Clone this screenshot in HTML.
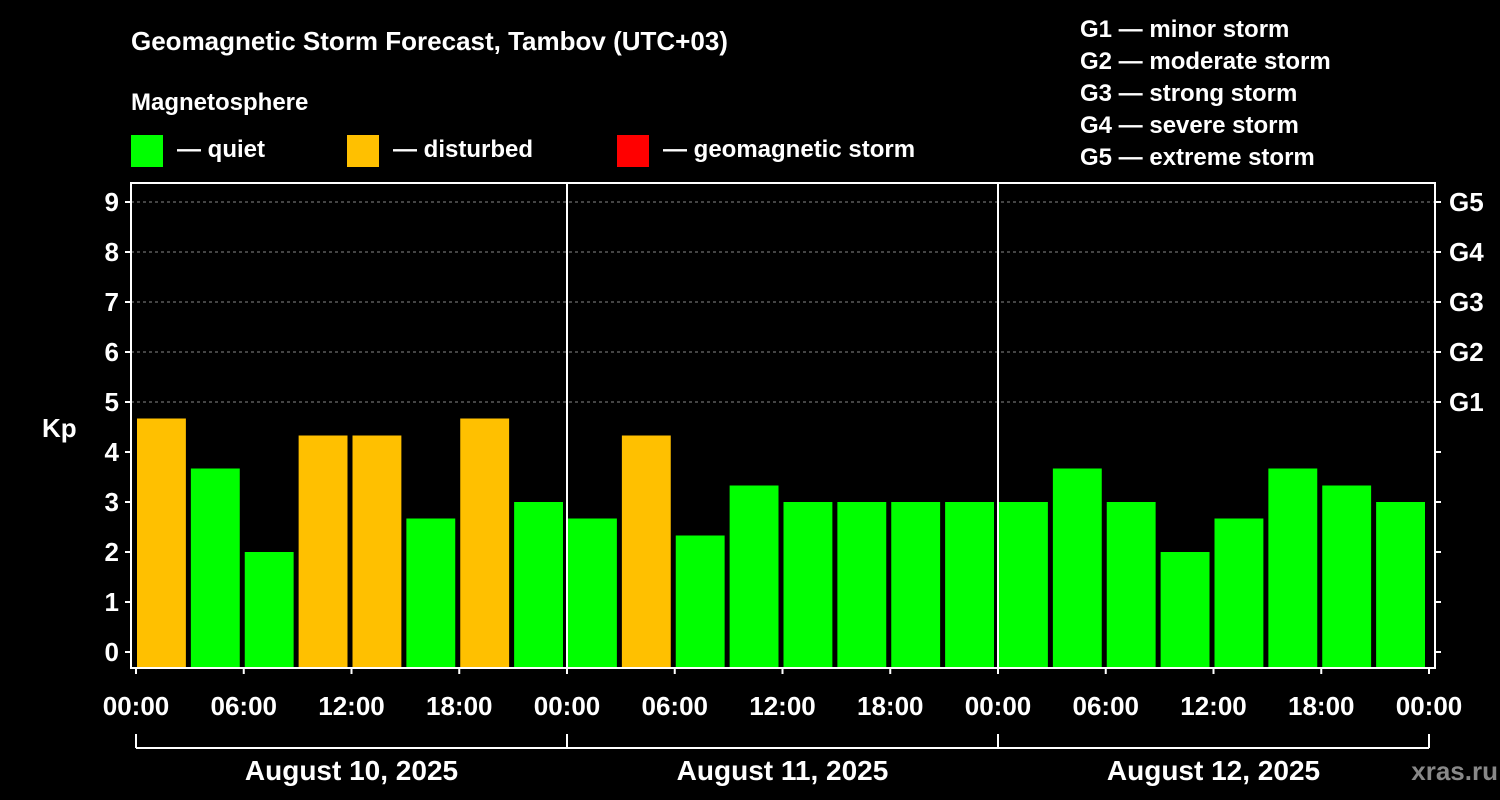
<!DOCTYPE html>
<html><head><meta charset="utf-8"><style>
html,body{margin:0;padding:0;background:#000;}
svg{display:block;font-family:"Liberation Sans",Arial,sans-serif;font-weight:bold;}
</style></head><body>
<svg id="chart" width="1500" height="800" viewBox="0 0 1500 800">
<rect x="0" y="0" width="1500" height="800" fill="#000"/>
<text x="131" y="50" fill="#fff" font-size="26">Geomagnetic Storm Forecast, Tambov (UTC+03)</text>
<text x="131" y="110" fill="#fff" font-size="24">Magnetosphere</text>
<g><rect x="131" y="135" width="32" height="32" fill="#00ff00"/><text x="177" y="157" fill="#fff" font-size="24">— quiet</text></g>
<g><rect x="347" y="135" width="32" height="32" fill="#ffc000"/><text x="393" y="157" fill="#fff" font-size="24">— disturbed</text></g>
<g><rect x="617" y="135" width="32" height="32" fill="#ff0000"/><text x="663" y="157" fill="#fff" font-size="24">— geomagnetic storm</text></g>
<g fill="#fff" font-size="24">
<text x="1080" y="37">G1 — minor storm</text>
<text x="1080" y="69">G2 — moderate storm</text>
<text x="1080" y="101">G3 — strong storm</text>
<text x="1080" y="133">G4 — severe storm</text>
<text x="1080" y="165">G5 — extreme storm</text>
</g>
<g id="grid"></g>
<g id="bars"></g>
<g id="axes"></g>
<text x="1498" y="780" fill="#888" font-size="26" text-anchor="end">xras.ru</text>
</svg>
<script>
const kpValues=[4.67,3.67,2,4.33,4.33,2.67,4.67,3, 2.67,4.33,2.33,3.33,3,3,3,3, 3,3.67,3,2,2.67,3.67,3.33,3];
const yTicks=[0,1,2,3,4,5,6,7,8,9];
const gLabels=["","","","","","G1","G2","G3","G4","G5"];
const timeLabels=["00:00","06:00","12:00","18:00","00:00","06:00","12:00","18:00","00:00","06:00","12:00","18:00","00:00"];
const dayLabels=["August 10, 2025","August 11, 2025","August 12, 2025"];
const NS="http://www.w3.org/2000/svg";
const L=131,R=1435,T=183,B=668,X0=136,X1=1429;
const y=v=>652-v*50;
const x=h=>X0+(X1-X0)*h/72;
function mk(p,tag,a){const e=document.createElementNS(NS,tag);for(const k in a)e.setAttribute(k,a[k]);p.appendChild(e);return e;}
const grid=document.getElementById('grid'),bars=document.getElementById('bars'),axes=document.getElementById('axes');
yTicks.forEach(v=>{if(v>=5){const l=mk(grid,'line',{x1:L,x2:R,y1:y(v),y2:y(v),stroke:'#888','stroke-dasharray':'3,3','stroke-width':1});

}});
kpValues.forEach((v,i)=>{const x0=x(i*3)+1,x1=x((i+1)*3)-4;
const r=mk(bars,'rect',{x:x0,y:y(v),width:x1-x0,height:B-y(v),fill:v>=5?'#ff0000':(v>=4?'#ffc000':'#00ff00')});

});
const frame=mk(axes,'rect',{x:L,y:T,width:R-L,height:B-T,fill:'none',stroke:'#fff','stroke-width':2});


[24,48].forEach(h=>{const d=mk(axes,'line',{x1:x(h),x2:x(h),y1:T,y2:B,stroke:'#fff','stroke-width':2});

});
yTicks.forEach(v=>{mk(axes,'line',{x1:L-6,x2:L,y1:y(v),y2:y(v),stroke:'#fff','stroke-width':2});
mk(axes,'line',{x1:R,x2:R+6,y1:y(v),y2:y(v),stroke:'#fff','stroke-width':2});
const t=mk(axes,'text',{x:L-12,y:y(v)+9,fill:'#fff','font-size':26,'text-anchor':'end'});t.textContent=v;


if(gLabels[v]){const g=mk(axes,'text',{x:R+14,y:y(v)+9,fill:'#fff','font-size':26});g.textContent=gLabels[v];

}});
const kp=mk(axes,'text',{x:42,y:437,fill:'#fff','font-size':26});kp.textContent='Kp';


timeLabels.forEach((s,i)=>{const h=i*6;mk(axes,'line',{x1:x(h),x2:x(h),y1:B,y2:B+6,stroke:'#fff','stroke-width':2});
const t=mk(axes,'text',{x:x(h),y:715,fill:'#fff','font-size':26,'text-anchor':'middle'});t.textContent=s;

});
mk(axes,'line',{x1:X0,x2:X1,y1:748,y2:748,stroke:'#fff','stroke-width':2});
[0,24,48,72].forEach(h=>mk(axes,'line',{x1:x(h),x2:x(h),y1:734,y2:748,stroke:'#fff','stroke-width':2}));
dayLabels.forEach((s,i)=>{const t=mk(axes,'text',{x:x(i*24+12),y:780,fill:'#fff','font-size':28,'text-anchor':'middle'});t.textContent=s;

});
</script>
</body></html>
